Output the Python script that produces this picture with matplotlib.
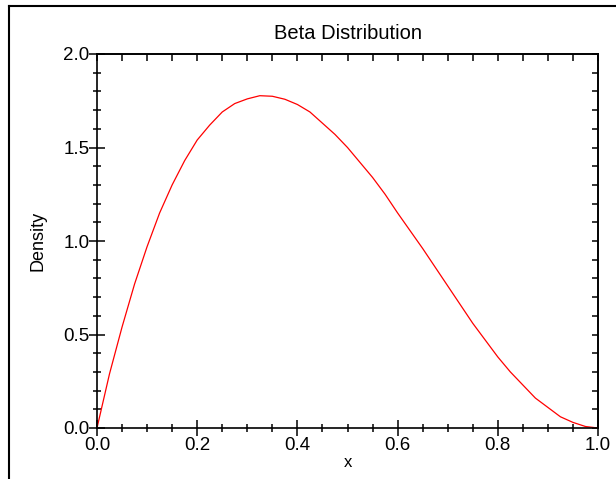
import matplotlib
matplotlib.use("Agg")
import matplotlib.pyplot as plt
from matplotlib.lines import Line2D

# values
x = [0.0, 0.025, 0.05, 0.075, 0.10, 0.125, 0.15, 0.175, 0.20, 0.225,
     0.25, 0.275, 0.30, 0.325, 0.35, 0.375, 0.40, 0.425, 0.45, 0.475,
     0.50, 0.525, 0.55, 0.575, 0.60, 0.625, 0.65, 0.675, 0.70, 0.725,
     0.75, 0.775, 0.80, 0.825, 0.85, 0.875, 0.90, 0.925, 0.95, 0.975, 1.0]
density = [0.0, 0.29, 0.54, 0.77, 0.97, 1.15, 1.30, 1.43, 1.54, 1.62,
           1.69, 1.735, 1.76, 1.777, 1.774, 1.758, 1.73, 1.69, 1.63, 1.57,
           1.50, 1.42, 1.34, 1.25, 1.15, 1.055, 0.96, 0.86, 0.76, 0.66,
           0.56, 0.47, 0.38, 0.30, 0.23, 0.16, 0.11, 0.06, 0.03, 0.008, 0.0]

xticks = [0.0, 0.2, 0.4, 0.6, 0.8, 1.0]
yticks = [0.0, 0.5, 1.0, 1.5, 2.0]

plt.rcParams['font.family'] = ['Liberation Sans', 'DejaVu Sans']

W, H = 616, 479
fig = plt.figure(figsize=(W / 100, H / 100), dpi=100)
ax = fig.add_axes([97 / W, (H - 428) / H, (598 - 97) / W, (428 - 54) / H])

ax.plot(x, density, color='red', lw=0.9)

ax.set_xlim(0, 1)
ax.set_ylim(0, 2)
ax.set_xticks(xticks)
ax.set_yticks(yticks)
ax.set_xticklabels(['%.1f' % v for v in xticks])
ax.set_yticklabels(['%.1f' % v for v in yticks])
ax.set_xticks([i * 0.05 for i in range(21)], minor=True)
ax.set_yticks([i * 0.1 for i in range(21)], minor=True)
ax.tick_params(which='major', direction='inout', length=11, width=1.1,
               labelsize=13.5, pad=1)
ax.tick_params(which='minor', direction='inout', length=5.5, width=1.1)
ax.tick_params(axis='y', which='major', pad=0)

# top / right axes: short inward ticks only
top = ax.secondary_xaxis('top')
top.set_xticks([i * 0.05 for i in range(21)])
top.tick_params(direction='in', length=5, width=1.1, labeltop=False)
right = ax.secondary_yaxis('right')
right.set_yticks([i * 0.1 for i in range(21)])
right.tick_params(direction='in', length=4.5, width=1.1, labelright=False)

for s in list(ax.spines.values()) + [top.spines['top'], right.spines['right']]:
    s.set_linewidth(1.2)

ax.set_title('Beta Distribution', fontsize=14.5, pad=11)
ax.set_xlabel('x', fontsize=12, labelpad=1)
ax.set_ylabel('Density', fontsize=13, labelpad=12)

# page border
fig.add_artist(Line2D([9 / W, 9 / W], [0, (H - 6) / H], color='black', lw=1.5,
                      transform=fig.transFigure))
fig.add_artist(Line2D([9 / W, 1], [(H - 6) / H, (H - 6) / H], color='black',
                      lw=1.5, transform=fig.transFigure))

fig.savefig('out.png', dpi=100)
